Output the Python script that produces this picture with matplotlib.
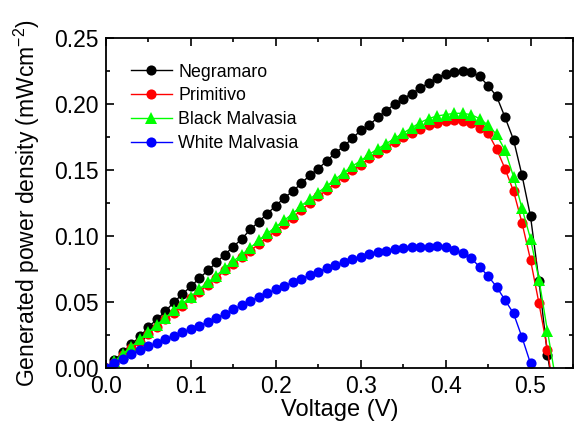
import numpy as np
import matplotlib
matplotlib.use("Agg")
import matplotlib.pyplot as plt
from matplotlib.ticker import MultipleLocator, FormatStrFormatter

voltage = [round(0.01 * i, 2) for i in range(54)]  # 0.00 ... 0.53

negramaro = [0.000, 0.006, 0.012, 0.018, 0.024, 0.031, 0.037, 0.043, 0.050, 0.056,
             0.062, 0.068, 0.074, 0.080, 0.086, 0.092, 0.098, 0.105, 0.111, 0.117,
             0.123, 0.129, 0.134, 0.140, 0.146, 0.151, 0.157, 0.163, 0.168, 0.174,
             0.180, 0.184, 0.190, 0.195, 0.200, 0.204, 0.208, 0.212, 0.216, 0.220,
             0.223, 0.224, 0.225, 0.224, 0.221, 0.214, 0.206, 0.190, 0.173, 0.146,
             0.115, 0.066, 0.010, -0.030]

primitivo = [0.000, 0.004, 0.010, 0.015, 0.020, 0.026, 0.031, 0.037, 0.042, 0.047,
             0.053, 0.058, 0.063, 0.068, 0.074, 0.079, 0.084, 0.089, 0.094, 0.099,
             0.104, 0.109, 0.114, 0.120, 0.125, 0.130, 0.135, 0.140, 0.145, 0.150,
             0.154, 0.159, 0.163, 0.167, 0.171, 0.175, 0.178, 0.181, 0.184, 0.186,
             0.187, 0.188, 0.187, 0.186, 0.182, 0.178, 0.166, 0.151, 0.134, 0.110,
             0.082, 0.049, 0.014, -0.030]

black_malvasia = [0.000, 0.005, 0.011, 0.016, 0.022, 0.027, 0.033, 0.038, 0.044, 0.049,
                  0.054, 0.060, 0.065, 0.070, 0.076, 0.081, 0.086, 0.091, 0.097, 0.102,
                  0.107, 0.112, 0.117, 0.123, 0.128, 0.133, 0.138, 0.143, 0.148, 0.153,
                  0.157, 0.162, 0.166, 0.170, 0.174, 0.178, 0.182, 0.186, 0.189, 0.191,
                  0.192, 0.193, 0.193, 0.192, 0.189, 0.184, 0.177, 0.165, 0.145, 0.121,
                  0.098, 0.067, 0.028, -0.010]

white_malvasia = [0.000, 0.0035, 0.007, 0.0105, 0.0135, 0.0165, 0.019, 0.022, 0.0245, 0.027,
                  0.0295, 0.032, 0.035, 0.038, 0.041, 0.0445, 0.0477, 0.051, 0.0536, 0.0566,
                  0.0597, 0.0621, 0.065, 0.0675, 0.0705, 0.073, 0.0756, 0.078, 0.080, 0.0824,
                  0.0845, 0.0864, 0.0877, 0.089, 0.090, 0.0907, 0.0915, 0.092, 0.092, 0.0922,
                  0.092, 0.0894, 0.0869, 0.0831, 0.0768, 0.0697, 0.0616, 0.0515, 0.0414, 0.0233,
                  0.0035]

series = [
    ("Negramaro", negramaro, "black", "o"),
    ("Primitivo", primitivo, "red", "o"),
    ("Black Malvasia", black_malvasia, "#00ff00", "^"),
    ("White Malvasia", white_malvasia, "blue", "o"),
]

plt.rcParams['font.family'] = ['Liberation Sans', 'DejaVu Sans']
plt.rcParams['mathtext.default'] = 'regular'

fig = plt.figure(figsize=(5.77, 4.28), dpi=100)
ax = fig.add_axes([0.1837, 0.140, 0.8093, 0.771])

for name, vals, col, mk in series:
    ax.plot(voltage[:len(vals)], vals, color=col, lw=1.0, marker=mk,
            markersize=8.0 if mk == "^" else 7.3, markeredgewidth=0,
            markerfacecolor=col, label=name)

ax.set_xlim(0, 0.55)
ax.set_ylim(0, 0.25)
ax.xaxis.set_major_locator(MultipleLocator(0.1))
ax.xaxis.set_minor_locator(MultipleLocator(0.05))
ax.yaxis.set_major_locator(MultipleLocator(0.05))
ax.yaxis.set_minor_locator(MultipleLocator(0.025))
ax.xaxis.set_major_formatter(FormatStrFormatter('%.1f'))
ax.yaxis.set_major_formatter(FormatStrFormatter('%.2f'))

ax.tick_params(which='both', direction='in', top=True, right=True, width=1.2)
ax.tick_params(which='major', length=5.5, labelsize=16.5, pad=5)
ax.tick_params(which='minor', length=3)
for s in ax.spines.values():
    s.set_linewidth(1.3)

ax.set_xlabel("Voltage (V)", fontsize=17, labelpad=1)
ax.set_ylabel("Generated power density (mWcm$^{-2}$)", fontsize=16.5, labelpad=9)

ax.legend(loc='upper left', bbox_to_anchor=(0.0535, 0.923), frameon=False,
          fontsize=12.8, handlelength=2.3, handletextpad=0.35, labelspacing=0.38,
          borderpad=0, borderaxespad=0)

fig.savefig("out.png", dpi=100)
